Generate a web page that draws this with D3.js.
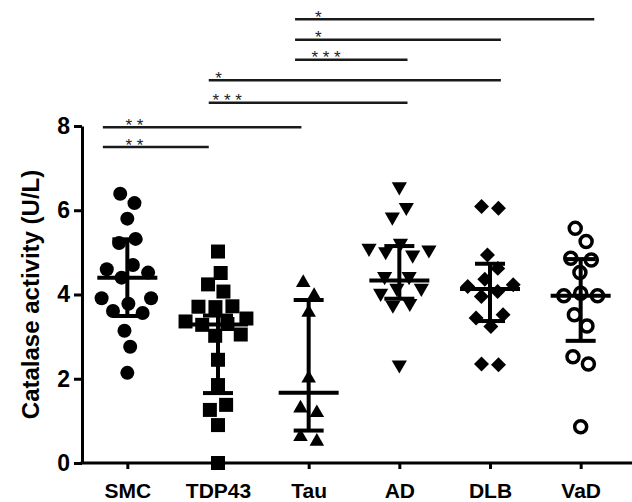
<!DOCTYPE html>
<html>
<head>
<meta charset="utf-8">
<script src="https://cdn.jsdelivr.net/npm/d3@7"></script>
<style>
  body { margin: 0; background: #fff; }
  svg { display: block; font-family: "Liberation Sans", Arial, sans-serif; }
</style>
</head>
<body>
<svg id="chart" width="632" height="502"></svg>
<script>
// groups on the x axis
const categories = ['SMC', 'TDP43', 'Tau', 'AD', 'DLB', 'VaD'];

// catalase activity per subject (U/L)
const smc = [6.39, 6.17, 5.80, 5.32, 5.22, 4.70, 4.60, 4.52, 4.40, 3.91, 3.91, 3.78, 3.61, 3.56, 3.14, 2.76, 2.14];
const tdp43 = [5.02, 4.51, 4.24, 4.07, 3.71, 3.72, 3.70, 3.43, 3.36, 3.30, 3.28, 3.05, 3.02, 2.45, 1.85, 1.38, 1.26, 0.90, 0.00];
const tau = [4.28, 3.97, 3.57, 2.01, 1.30, 1.19, 0.62, 0.51];
const ad = [6.56, 6.07, 5.84, 5.22, 5.10, 5.06, 5.02, 4.94, 4.43, 4.43, 4.15, 4.15, 4.03, 3.79, 3.75, 2.33];
const dlb = [6.09, 6.05, 4.94, 4.62, 4.36, 4.23, 4.19, 4.07, 3.95, 3.52, 3.44, 3.24, 2.35, 2.33];
const vad = [5.57, 5.26, 4.86, 4.82, 4.52, 4.03, 3.97, 3.97, 3.52, 3.25, 2.52, 2.35, 0.86];

// median with interquartile range
const medians = [4.40, 3.29, 1.67, 4.33, 4.13, 3.97];
const q1 = [3.49, 1.66, 0.77, 3.90, 3.37, 2.90];
const q3 = [5.31, 3.50, 3.87, 5.15, 4.73, 4.84];

const yTicks = [0, 2, 4, 6, 8];

// significance brackets (x in category-index units, level in U/L)
const sigStart = [-0.27, -0.27, 0.898, 0.898, 1.85, 1.85, 1.85];
const sigEnd = [0.898, 1.92, 3.09, 4.12, 3.09, 4.12, 5.15];
const sigLevel = [7.50, 7.97, 8.55, 9.085, 9.57, 10.05, 10.535];
const sigLabel = ['* *', '* *', '* * *', '*', '* * *', '*', '*'];
const sigTextAt = [-0.02, -0.02, 0.94, 0.97, 2.03, 2.07, 2.07];

const groups = [smc, tdp43, tau, ad, dlb, vad];

const svg = d3.select('#chart');

const x = d3.scalePoint()
    .domain(categories)
    .range([82, 626])
    .padding(0.5);

const xi = d3.scaleLinear()
    .domain([0, categories.length - 1])
    .range([x(categories[0]), x(categories[categories.length - 1])]);

const y = d3.scaleLinear()
    .domain([0, 8])
    .range([463, 126]);

// symbols for each group
const sym = d3.symbol();
const shapes = [
    { path: sym.type(d3.symbolCircle).size(Math.PI * 49)(), rot: 0, fill: '#000', stroke: 'none' },
    { path: sym.type(d3.symbolSquare).size(196)(), rot: 0, fill: '#000', stroke: 'none' },
    { path: sym.type(d3.symbolTriangle).size(92)(), rot: 0, fill: '#000', stroke: 'none' },
    { path: sym.type(d3.symbolTriangle).size(100)(), rot: 180, fill: '#000', stroke: 'none' },
    { path: sym.type(d3.symbolSquare).size(112)(), rot: 45, fill: '#000', stroke: 'none' },
    { path: sym.type(d3.symbolCircle).size(Math.PI * 36)(), rot: 0, fill: '#fff', stroke: '#000' }
];

// spread points sideways like a scatter dot plot
let nodes = [];
groups.forEach((vals, gi) => {
    const cx = x(categories[gi]);
    vals.forEach((v, i) => {
        nodes.push({ g: gi, v: v, cx: cx, x: cx + (i % 2 ? 0.5 : -0.5), y: y(v), fy: y(v) });
    });
});

const simulation = d3.forceSimulation(nodes)
    .force('x', d3.forceX(d => d.cx).strength(0.08))
    .force('collide', d3.forceCollide(8.5).iterations(3))
    .stop();
for (let i = 0; i < 300; i++) simulation.tick();

// axes
const yAxis = svg.append('g')
    .attr('transform', 'translate(82,0)')
    .call(d3.axisLeft(y).tickValues(yTicks).tickSize(8).tickSizeOuter(0).tickPadding(4));
yAxis.selectAll('path, line').attr('stroke', '#000').attr('stroke-width', 3);
yAxis.selectAll('text')
    .attr('font-size', 23)
    .attr('font-weight', 'bold')
    .attr('fill', '#000')
    .attr('font-family', '"Liberation Sans", Arial, sans-serif');

const xAxis = svg.append('g')
    .attr('transform', 'translate(0,463)')
    .call(d3.axisBottom(x).tickSize(6).tickSizeOuter(0).tickPadding(14));
xAxis.select('.domain').attr('d', 'M80.5,0H632');
xAxis.selectAll('path, line').attr('stroke', '#000').attr('stroke-width', 3);
xAxis.selectAll('text')
    .attr('font-size', 21)
    .attr('font-weight', 'bold')
    .attr('fill', '#000')
    .attr('font-family', '"Liberation Sans", Arial, sans-serif');

svg.append('text')
    .attr('transform', 'translate(39,' + (y(0) + y(8)) / 2 + ') rotate(-90)')
    .attr('text-anchor', 'middle')
    .attr('font-size', 24)
    .attr('font-weight', 'bold')
    .text('Catalase activity (U/L)');

// points
svg.append('g')
    .selectAll('path')
    .data(nodes)
    .join('path')
    .attr('d', d => shapes[d.g].path)
    .attr('transform', d => 'translate(' + d.x + ',' + d.y + ') rotate(' + shapes[d.g].rot + ')')
    .attr('fill', d => shapes[d.g].fill)
    .attr('stroke', d => shapes[d.g].stroke)
    .attr('stroke-width', 3.5);

// median and IQR
const eb = svg.append('g').attr('stroke', '#000').attr('stroke-width', 4);
categories.forEach((c, i) => {
    const cx = x(c);
    eb.append('line').attr('x1', cx).attr('x2', cx).attr('y1', y(q1[i])).attr('y2', y(q3[i]));
    eb.append('line').attr('x1', cx - 30).attr('x2', cx + 30).attr('y1', y(medians[i])).attr('y2', y(medians[i]));
    eb.append('line').attr('x1', cx - 15).attr('x2', cx + 15).attr('y1', y(q1[i])).attr('y2', y(q1[i]));
    eb.append('line').attr('x1', cx - 15).attr('x2', cx + 15).attr('y1', y(q3[i])).attr('y2', y(q3[i]));
});

// significance brackets
const sig = svg.append('g');
sigLevel.forEach((lv, i) => {
    sig.append('line')
        .attr('x1', xi(sigStart[i]))
        .attr('x2', xi(sigEnd[i]))
        .attr('y1', y(lv))
        .attr('y2', y(lv))
        .attr('stroke', '#1a1a1a')
        .attr('stroke-width', 2.5);
    sig.append('text')
        .attr('x', xi(sigTextAt[i]))
        .attr('y', y(lv) + 3.5)
        .attr('font-size', 17)
        .attr('fill', '#222')
        .text(sigLabel[i]);
});
</script>
</body>
</html>
